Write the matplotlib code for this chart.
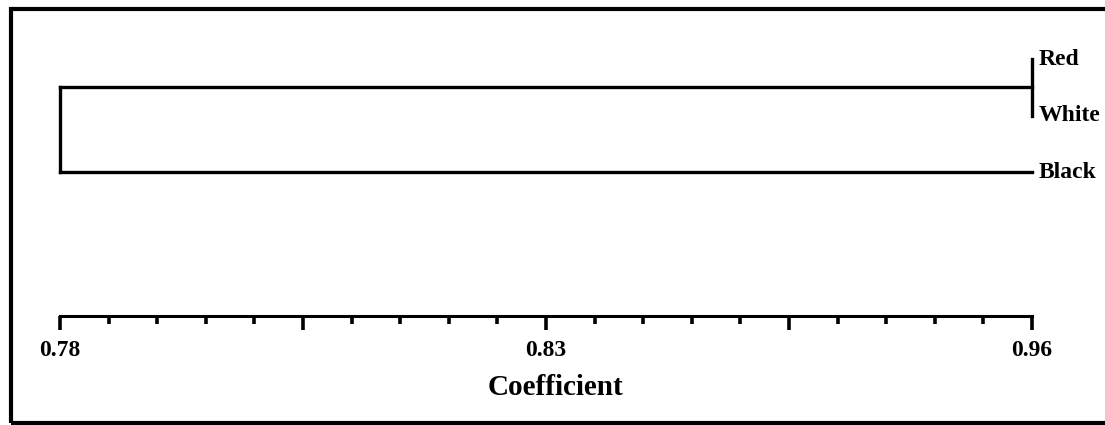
import matplotlib
matplotlib.use("Agg")
import matplotlib.pyplot as plt
from matplotlib.patches import Rectangle
import numpy as np

# dendrogram data
leaves = ["Red", "White", "Black"]
leaf_pos = [0, 1, 2]
leaf_height = 0.96          # coefficient where the leaves sit
merge_red_white = 0.96      # Red + White join
merge_all = 0.78            # (Red, White) + Black join

# axis
x_min, x_max = 0.78, 0.96
n_ticks = 21
major_every = 5
tick_labels = {0: "0.78", 10: "0.83", 20: "0.96"}

plt.rcParams["font.family"] = ["Liberation Serif", "DejaVu Serif"]
plt.rcParams["font.weight"] = "bold"

W, H = 1105, 425
fig = plt.figure(figsize=(W / 100, H / 100), dpi=100)

# axes in pixel coords: x 60..1032, y 40..316 (from top)
ax = fig.add_axes([60 / W, (H - 316) / H, (1032 - 60) / W, (316 - 40) / H])
ax.set_xlim(x_min, x_max)
ax.set_ylim(4.55, -0.34)

lw = 2.4
kw = dict(color="black", lw=lw, clip_on=False, solid_capstyle="projecting")
# Red-White cluster
rw_mid = (leaf_pos[0] + leaf_pos[1]) / 2
ax.plot([merge_red_white, merge_red_white], [leaf_pos[0], leaf_pos[1]], **kw)
# top level
ax.plot([merge_all, merge_red_white], [rw_mid, rw_mid], **kw)
ax.plot([merge_all, leaf_height], [leaf_pos[2], leaf_pos[2]], **kw)
ax.plot([merge_all, merge_all], [rw_mid, leaf_pos[2]], **kw)

for name, y in zip(leaves, leaf_pos):
    ax.annotate(name, (leaf_height, y), xytext=(5, 0), textcoords="offset points",
                va="center", ha="left", fontsize=17, fontweight="bold")

# bottom axis
for s in ["left", "right", "top"]:
    ax.spines[s].set_visible(False)
ax.spines["bottom"].set_linewidth(2.2)
ax.spines["bottom"].set_capstyle("projecting")
ax.set_yticks([])

ticks = np.linspace(x_min, x_max, n_ticks)
major = ticks[::major_every]
minor = [t for i, t in enumerate(ticks) if i % major_every != 0]
ax.set_xticks(major)
ax.set_xticks(minor, minor=True)
ax.set_xticklabels([tick_labels.get(i * major_every, "") for i in range(len(major))])
ax.tick_params(axis="x", which="major", direction="out", length=10, width=2.6, pad=7,
               labelsize=17)
ax.tick_params(axis="x", which="minor", direction="out", length=6, width=2.6)
for lab in ax.get_xticklabels():
    lab.set_fontweight("bold")

ax.set_xlabel("Coefficient", fontsize=21, fontweight="bold", labelpad=8)
ax.xaxis.set_label_coords(0.51, -0.21)

# outer frame
fig.patches.append(Rectangle((11 / W, 2 / H), 1.2, (H - 11) / H, transform=fig.transFigure,
                             fill=False, lw=3, edgecolor="black"))

fig.savefig("out.png", dpi=100)
